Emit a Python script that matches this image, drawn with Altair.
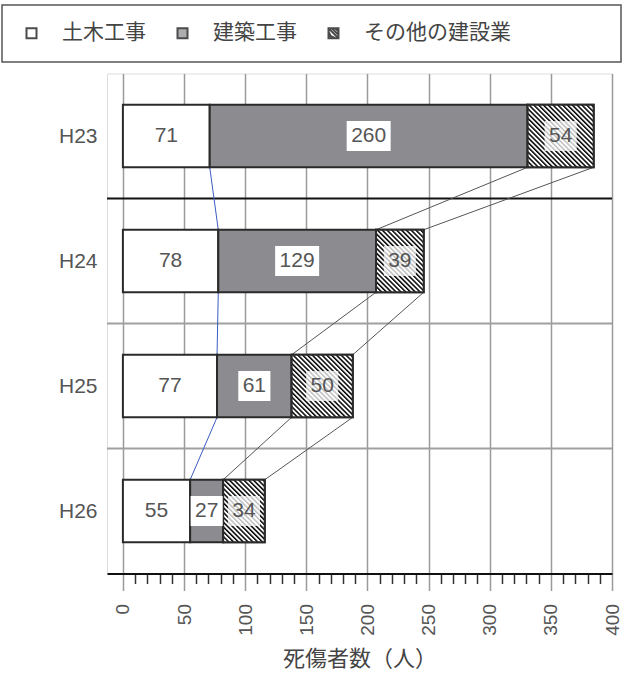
import urllib.parse
import altair as alt
import pandas as pd

# ---- data ----
years = ["H23", "H24", "H25", "H26"]
categories = ["土木工事", "建築工事", "その他の建設業"]
doboku = [71, 78, 77, 55]
kenchiku = [260, 129, 61, 27]
other = [54, 39, 50, 34]
x_ticks = list(range(0, 401, 10))

# ---- styling constants ----
X_MIN, X_MAX = -13, 400
HALF = 0.25  # half bar thickness in category units
GRAY = "#8b8b90"
TEXT = "#555555"
FONT = "Liberation Sans"
JFONT = "Noto Sans CJK JP"
XTITLE = "死傷者数（人）"

series = [doboku, kenchiku, other]
rows = []
for i, y in enumerate(years):
    s = 0
    for c, (cat, vals) in enumerate(zip(categories, series)):
        v = vals[i]
        rows.append(dict(year=y, idx=i, category=cat, cat_idx=c, value=v, start=s, end=s + v))
        s += v
bars = pd.DataFrame(rows)

conn_rows = []
for i in range(len(years) - 1):
    for c in range(len(categories)):
        a = bars[(bars.idx == i) & (bars.cat_idx == c)].iloc[0]
        b = bars[(bars.idx == i + 1) & (bars.cat_idx == c)].iloc[0]
        conn_rows.append(dict(idx=i, kind=c, x_from=a.end, x_to=b.end))
conns = pd.DataFrame(conn_rows)
seps = pd.DataFrame({"idx": list(range(len(years) - 1))})

hatch_svg = (
    "<svg xmlns='http://www.w3.org/2000/svg' width='100%' height='100%'>"
    "<defs><pattern id='h' width='3.4' height='3.4' patternUnits='userSpaceOnUse' "
    "patternTransform='rotate(-45)'><rect width='3.4' height='3.4' fill='white'/>"
    "<rect width='1.5' height='3.4' fill='black'/></pattern></defs>"
    "<rect width='100%' height='100%' fill='url(#h)'/></svg>"
)
hatch_url = "data:image/svg+xml;charset=utf-8," + urllib.parse.quote(hatch_svg)

hatch_symbol = ("M-1,-1H1V1H-1Z M-1,-1L1,1 M-1,-0.33L-0.33,1 M-1,0.33L0.33,1 "
                "M-0.33,-1L1,0.33 M0.33,-1L1,-0.33")

X_SCALE = alt.Scale(domain=[X_MIN, X_MAX], nice=False, zero=False)
Y_SCALE = alt.Scale(domain=[-0.5, len(years) - 0.5], reverse=True, nice=False, zero=False)

label_expr_y = "[" + ",".join("'%s'" % y for y in years) + "][datum.value]"

XAXIS = alt.Axis(
    values=x_ticks,
    labelExpr="datum.value % 50 === 0 ? datum.label : ''",
    labelAngle=270,
    labelFontSize=19,
    labelFont=FONT,
    labelColor=TEXT,
    labelOverlap=False,
    labelFlush=False,
    labelPadding=13,
    tickSize={"condition": {"test": "datum.value % 50 === 0", "value": 17}, "value": 10},
    tickColor={"condition": {"test": "datum.value % 50 === 0", "value": "#9a9a9a"}, "value": "#333333"},
    tickWidth=1.5,
    grid=True,
    gridColor="#9a9a9a",
    gridWidth=1.5,
    gridOpacity={"condition": {"test": "datum.value % 50 === 0", "value": 1}, "value": 0},
    domainColor="#111111",
    domainWidth=2,
    title=XTITLE,
    titleFont=JFONT,
    titleFontSize=22,
    titleFontWeight="normal",
    titleColor="#444444",
    titlePadding=13,
)
YAXIS = alt.Axis(
    values=list(range(len(years))),
    labelExpr=label_expr_y,
    labelFontSize=21,
    labelFont=FONT,
    labelColor=TEXT,
    labelPadding=10,
    ticks=False,
    domain=False,
    grid=False,
    title=None,
)

LEGEND = alt.Legend(
    orient="none",
    legendX=-86,
    legendY=-51,
    direction="horizontal",
    title=None,
    labelFontSize=21,
    labelFont=JFONT,
    labelColor="#444444",
    symbolSize=100,
    symbolStrokeWidth=2,
    symbolStrokeColor="black",
    labelOffset=20,
    columnPadding=26,
    padding=0,
)


def xe(field):
    return alt.X(field, type="quantitative", scale=X_SCALE, axis=XAXIS, title=XTITLE)


def ye(field):
    return alt.Y(field, type="quantitative", scale=Y_SCALE, axis=YAXIS, title=None)


mid_calc = dict(mid="(datum.start + datum.end) / 2")

# legend points, hidden behind bars
legend_pts = alt.Chart(bars).transform_calculate(**mid_calc).mark_point(
    filled=True, stroke="black", strokeWidth=2, size=100
).encode(
    x=xe("mid"),
    y=ye("idx"),
    color=alt.Color("category:N", scale=alt.Scale(domain=categories, range=["white", GRAY, "white"]),
                    title=None, sort=categories, legend=LEGEND),
    shape=alt.Shape("category:N", scale=alt.Scale(domain=categories, range=["square", "square", hatch_symbol]),
                    title=None, sort=categories, legend=LEGEND),
)

sep_lines = alt.Chart(seps).transform_calculate(yy="datum.idx + 0.5").mark_rule(strokeWidth=1.8).encode(
    x=alt.X(datum=X_MIN, type="quantitative", scale=X_SCALE, axis=XAXIS, title=XTITLE),
    x2=alt.X2(datum=X_MAX),
    y=ye("yy"),
    color=alt.condition("datum.idx == 0", alt.value("#111111"), alt.value("#a0a0a0")),
)

conn_lines = alt.Chart(conns).transform_calculate(
    y0="datum.idx + %f" % HALF, y1="datum.idx + 1 - %f" % HALF
).mark_rule(strokeWidth=1).encode(
    x=xe("x_from"),
    x2="x_to:Q",
    y=ye("y0"),
    y2="y1:Q",
    color=alt.condition("datum.kind == 0", alt.value("#3b5bc4"), alt.value("#555555")),
)

ycalc = dict(y0="datum.idx - %f" % HALF, y1="datum.idx + %f" % HALF)

bar_layer = alt.Chart(bars).transform_calculate(**ycalc).mark_rect(
    stroke="#2a2a2a", strokeWidth=2
).encode(
    x=xe("start"),
    x2="end:Q",
    y=ye("y0"),
    y2="y1:Q",
    fill=alt.Fill("category:N", scale=alt.Scale(domain=categories, range=["white", GRAY, "white"]), legend=None),
)

hatch_layer = alt.Chart(bars).transform_filter("datum.cat_idx == 2").transform_calculate(**ycalc).mark_image(
    aspect=False, url=hatch_url
).encode(
    x=xe("start"),
    x2="end:Q",
    y=ye("y0"),
    y2="y1:Q",
)

hatch_outline = alt.Chart(bars).transform_filter("datum.cat_idx == 2").transform_calculate(**ycalc).mark_rect(
    fillOpacity=0, stroke="#2a2a2a", strokeWidth=2
).encode(
    x=xe("start"),
    x2="end:Q",
    y=ye("y0"),
    y2="y1:Q",
)

BOX3 = "M-1,-0.68H1V0.68H-1Z"
BOX2 = "M-0.73,-0.68H0.73V0.68H-0.73Z"


def box_layer(test, shape):
    return alt.Chart(bars).transform_filter("datum.cat_idx > 0").transform_filter(test).transform_calculate(
        **mid_calc
    ).mark_point(filled=True, color="white", size=1936, shape=shape, strokeWidth=0).encode(
        x=xe("mid"),
        y=ye("idx"),
        opacity=alt.condition("datum.cat_idx == 2", alt.value(0.75), alt.value(1)),
    )


box3 = box_layer("datum.value >= 100", BOX3)
box2 = box_layer("datum.value < 100", BOX2)

text_layer = alt.Chart(bars).transform_calculate(**mid_calc).mark_text(
    fontSize=21, font=FONT, color=TEXT
).encode(
    x=xe("mid"),
    y=ye("idx"),
    text="value:Q",
)

legend_frame = alt.Chart(pd.DataFrame({"k": [0]})).mark_rect(
    fill="white", fillOpacity=0, stroke="#555555", strokeWidth=1.5
).encode(
    x=alt.value(-105), x2=alt.value(514), y=alt.value(-68.5), y2=alt.value(-11.5)
)

chart = alt.layer(
    legend_frame, legend_pts, sep_lines, conn_lines, bar_layer, hatch_layer, hatch_outline, box3, box2, text_layer
).properties(
    width=505,
    height=500,
    autosize=alt.AutoSizeParams(type="none"),
    padding={"left": 107, "top": 73.5, "right": 11, "bottom": 100.5},
).configure_view(stroke=None).configure(background="white")

chart.save("out.html", embed_options={"renderer": "svg", "actions": False})
